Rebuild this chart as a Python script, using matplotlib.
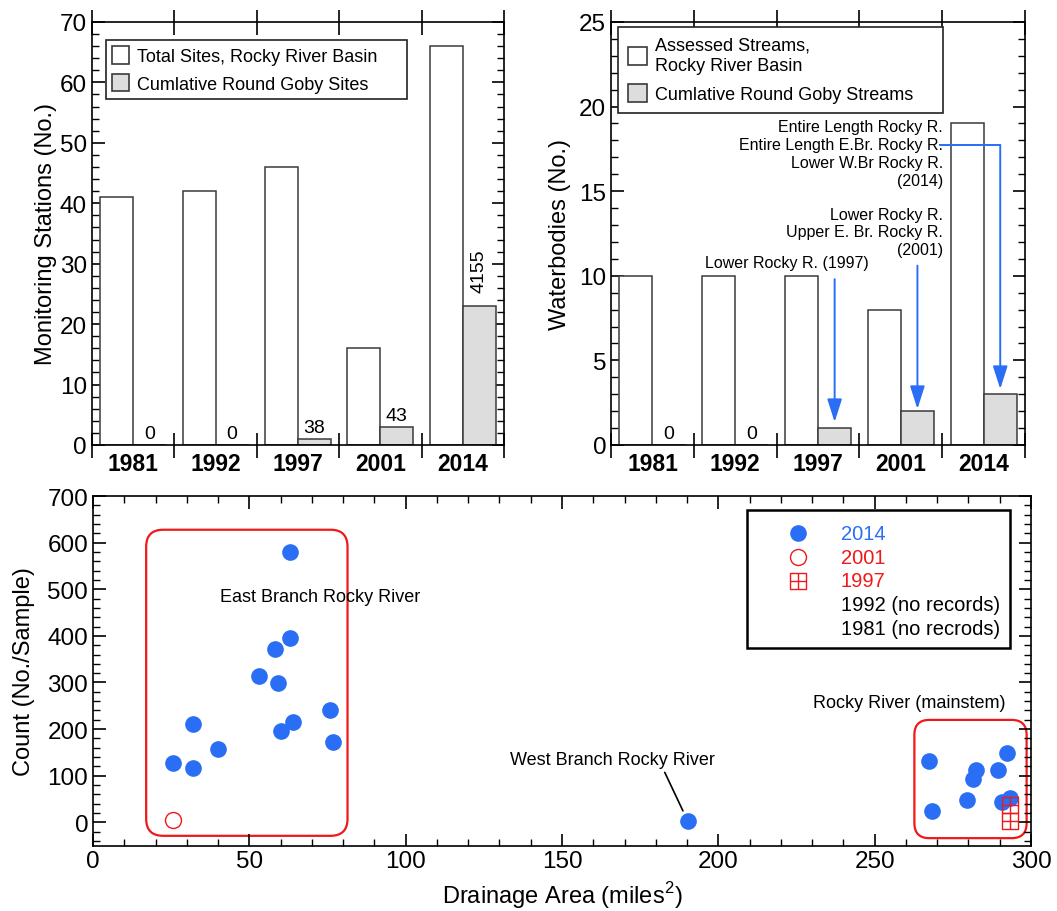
import numpy as np
import matplotlib
matplotlib.use('Agg')
import matplotlib.pyplot as plt
from matplotlib.patches import Patch, FancyBboxPatch, Rectangle
from matplotlib.path import Path
from matplotlib.ticker import MultipleLocator, FixedLocator, NullFormatter

plt.rcParams['font.family'] = ['Liberation Sans', 'DejaVu Sans']
plt.rcParams['mathtext.fontset'] = 'custom'
plt.rcParams['mathtext.rm'] = 'Liberation Sans'

# ---- data ----
years = ['1981', '1992', '1997', '2001', '2014']
total_sites = [41, 42, 46, 16, 66]
goby_sites = [0, 0, 1, 3, 23]
goby_counts = ['0', '0', '38', '43', '4155']

assessed_streams = [10, 10, 10, 8, 19]
goby_streams = [0, 0, 1, 2, 3]

# 2014 sites: drainage area (mi2) and round goby count per sample
east_area = [25.5, 31.9, 32.0, 40.1, 53.2, 58.3, 63.1, 59.1, 63.1, 64.1, 60.1, 75.7, 76.6]
east_count = [127, 117, 211, 157, 314, 371, 396, 298, 581, 215, 196, 240, 173]
west_area = [190.2]
west_count = [3]
main_area = [267.3, 268.3, 279.4, 281.3, 282.4, 289.4, 292.3, 290.6, 293.4]
main_count = [131, 25, 48, 92, 113, 113, 148, 43, 52]
area_2001 = [25.5]
count_2001 = [5]
area_1997 = [293.3, 293.3]
count_1997 = [38, 3]

BLUE = '#2A6EF5'
RED = '#F01818'
GRAY = '#DCDDDC'
EDGE = '#3A3A3A'

fig = plt.figure(figsize=(10.57, 9.12), dpi=100)
ax1 = fig.add_axes([0.0870, 0.5110, 0.3898, 0.4638])
ax2 = fig.add_axes([0.5781, 0.5110, 0.3917, 0.4638])
ax3 = fig.add_axes([0.0880, 0.0717, 0.8874, 0.3833])


def bar_panel(ax, totals, goby, ymax, major, minor):
    pos = np.arange(len(years))
    ax.bar(pos + 0.1, totals, 0.4, align='edge', color='white',
           edgecolor=EDGE, linewidth=1.1, zorder=2)
    ax.bar(pos + 0.5, goby, 0.4, align='edge', color=GRAY,
           edgecolor=EDGE, linewidth=1.1, zorder=2)
    ax.set_xlim(0, len(years))
    ax.set_ylim(0, ymax)
    ax.xaxis.set_major_locator(FixedLocator(np.arange(len(years) + 1)))
    ax.xaxis.set_major_formatter(NullFormatter())
    ax.set_xticks(pos + 0.5, labels=years, minor=True)
    for t in ax.get_xticklabels(minor=True):
        t.set_fontweight('bold')
        t.set_fontsize(16.5)
    ax.tick_params(axis='x', which='major', direction='inout', length=18,
                   width=1.2, top=True, bottom=True)
    ax.tick_params(axis='x', which='minor', length=0, pad=5)
    ax.yaxis.set_major_locator(MultipleLocator(major))
    ax.yaxis.set_minor_locator(MultipleLocator(minor))
    ax.tick_params(axis='y', which='major', direction='in', length=9,
                   width=1.2, left=True, right=True, labelsize=17.5)
    ax.tick_params(axis='y', which='minor', direction='in', length=5,
                   width=1, left=True, right=True)
    for s in ax.spines.values():
        s.set_linewidth(1.2)
    return pos


# ---- monitoring stations ----
pos = bar_panel(ax1, total_sites, goby_sites, 70, 10, 2)
for p, v, lab in zip(pos, goby_sites, goby_counts):
    if len(lab) > 2:
        ax1.annotate(lab, (p + 0.7, v), xytext=(0, 10), textcoords='offset points',
                     ha='center', va='bottom', rotation=90, fontsize=14)
    else:
        ax1.annotate(lab, (p + 0.7, v), xytext=(0, 2), textcoords='offset points',
                     ha='center', va='bottom', fontsize=14)
ax1.set_ylabel('Monitoring Stations (No.)', fontsize=17, labelpad=2)
leg1 = ax1.legend(handles=[Patch(facecolor='white', edgecolor=EDGE, linewidth=1.2),
                           Patch(facecolor=GRAY, edgecolor=EDGE, linewidth=1.2)],
                  labels=['Total Sites, Rocky River Basin', 'Cumlative Round Goby Sites'],
                  loc='upper left', bbox_to_anchor=(0.034, 0, 0.7306, 0.9574),
                  mode='expand', borderaxespad=0, fontsize=13, fancybox=False,
                  edgecolor='#222222', framealpha=1, handlelength=0.95,
                  handleheight=1.1, handletextpad=0.4, borderpad=0.35,
                  labelspacing=0.5)
leg1.get_frame().set_linewidth(1.2)

# ---- waterbodies ----
pos = bar_panel(ax2, assessed_streams, goby_streams, 25, 5, 1)
for p, v, lab in zip(pos, goby_streams, goby_counts):
    if v == 0:
        ax2.annotate(lab, (p + 0.7, v), xytext=(0, 2), textcoords='offset points',
                     ha='center', va='bottom', fontsize=14)
ax2.set_ylabel('Waterbodies (No.)', fontsize=17, labelpad=6)
leg2 = ax2.legend(handles=[Patch(facecolor='white', edgecolor=EDGE, linewidth=1.2),
                           Patch(facecolor=GRAY, edgecolor=EDGE, linewidth=1.2)],
                  labels=['Assessed Streams,\nRocky River Basin',
                          'Cumlative Round Goby Streams'],
                  loc='upper left', bbox_to_anchor=(0.0169, 0, 0.785, 0.988),
                  mode='expand', borderaxespad=0, fontsize=13, fancybox=False,
                  edgecolor='#222222', framealpha=1, handlelength=1.05,
                  handleheight=1.1, handletextpad=0.45, borderpad=0.55,
                  labelspacing=0.55)
for t in leg2.get_texts():
    t.set_linespacing(1.25)
leg2.get_frame().set_linewidth(1.2)

arrow_kw = dict(arrowstyle='-|>,head_length=1.4,head_width=0.45', color=BLUE,
                lw=1.4, shrinkA=0, shrinkB=0, mutation_scale=10)
ax2.text(2.12, 10.8, 'Lower Rocky R. (1997)', ha='center', va='center', fontsize=11.5)
ax2.annotate('', xy=(2.7, 1.36), xytext=(2.7, 9.8), arrowprops=arrow_kw)
ax2.text(4.01, 12.6, 'Lower Rocky R.\nUpper E. Br. Rocky R.\n(2001)', ha='right',
         va='center', multialignment='right', fontsize=11.5, linespacing=1.2)
ax2.annotate('', xy=(3.7, 2.13), xytext=(3.7, 10.6), arrowprops=arrow_kw)
ax2.text(4.01, 17.2, 'Entire Length Rocky R.\nEntire Length E.Br. Rocky R.\n'
         'Lower W.Br Rocky R.\n(2014)', ha='right', va='center',
         multialignment='right', fontsize=11.5, linespacing=1.25)
ax2.plot([3.97, 4.7], [17.73, 17.73], color=BLUE, lw=1.4)
ax2.annotate('', xy=(4.7, 3.31), xytext=(4.7, 17.73), arrowprops=arrow_kw)

# ---- count vs drainage area ----
ax3.set_xlim(0, 300)
ax3.set_ylim(-50, 700)

# rounded outline boxes around the river reaches
bb = ax3.get_position()
px_x = bb.width * fig.get_figwidth() * fig.dpi / 300.0
px_y = bb.height * fig.get_figheight() * fig.dpi / 750.0
asp = px_x / px_y
for (x0, x1, y0, y1, r) in [(17.0, 81.4, -29, 627.7, 17), (262.7, 298.6, -34, 219.7, 15)]:
    ax3.add_patch(FancyBboxPatch((x0, y0), x1 - x0, y1 - y0,
                                 boxstyle='round,pad=0,rounding_size=%.3f' % (r / px_x),
                                 mutation_aspect=asp, facecolor='none',
                                 edgecolor=RED, linewidth=1.6, zorder=1))

all_area = east_area + west_area + main_area
all_count = east_count + west_count + main_count
ax3.plot(all_area, all_count, 'o', color=BLUE, ms=12, mew=0, zorder=3)
ax3.plot(area_2001, count_2001, 'o', mfc='none', mec=RED, ms=11.5, mew=1, zorder=4)

square_plus = Path([(-1, -1), (1, -1), (1, 1), (-1, 1), (-1, -1),
                    (-1, 0), (1, 0), (0, -1), (0, 1)],
                   [Path.MOVETO, Path.LINETO, Path.LINETO, Path.LINETO, Path.CLOSEPOLY,
                    Path.MOVETO, Path.LINETO, Path.MOVETO, Path.LINETO])
ax3.plot(area_1997, count_1997, linestyle='none', marker=square_plus, mfc='none',
         mec=RED, ms=11.7, mew=1, zorder=4)

ax3.text(72.5, 484, 'East Branch Rocky River', ha='center', va='center', fontsize=13)
ax3.text(261, 258, 'Rocky River (mainstem)', ha='center', va='center', fontsize=13)
ax3.annotate('West Branch Rocky River', xy=(west_area[0], west_count[0]),
             xytext=(166.2, 134), ha='center', va='center', fontsize=13,
             arrowprops=dict(arrowstyle='-', color='black', lw=1.2, shrinkA=1,
                             shrinkB=8, relpos=(0.745, 0)))

# legend drawn by hand inside a framed box
leg_labels = ['2014', '2001', '1997', '1992 (no records)', '1981 (no recrods)']
leg_colors = [BLUE, RED, RED, 'black', 'black']
leg_markers = [dict(marker='o', color=BLUE, ms=12, mew=0),
               dict(marker='o', mfc='none', mec=RED, ms=11.5, mew=1),
               dict(marker=square_plus, mfc='none', mec=RED, ms=11.7, mew=1),
               None, None]
ax3.add_patch(Rectangle((0.697, 0.5644), 0.2806, 0.3964, transform=ax3.transAxes,
                        facecolor='white', edgecolor='black', linewidth=1.8, zorder=5))
for i, (lab, col, mk) in enumerate(zip(leg_labels, leg_colors, leg_markers)):
    yy = 0.8933 - i * 0.0679
    if mk is not None:
        ax3.plot([0.7516], [yy], linestyle='none', transform=ax3.transAxes,
                 zorder=6, **mk)
    ax3.text(0.797, yy, lab, color=col, fontsize=14.5, ha='left', va='center',
             transform=ax3.transAxes, zorder=6)

ax3.xaxis.set_major_locator(MultipleLocator(50))
ax3.xaxis.set_minor_locator(MultipleLocator(10))
ax3.yaxis.set_major_locator(MultipleLocator(100))
ax3.yaxis.set_minor_locator(MultipleLocator(20))
ax3.tick_params(which='major', direction='in', length=9, width=1.2, top=True,
                right=True, labelsize=17.5)
ax3.tick_params(which='minor', direction='in', length=5, width=1, top=True, right=True)
for s in ax3.spines.values():
    s.set_linewidth(1.2)
ax3.set_xlabel('Drainage Area (miles$^{2}$)', fontsize=17, labelpad=5)
ax3.set_ylabel('Count (No./Sample)', fontsize=17, labelpad=9)

fig.savefig('out.png', dpi=100)
